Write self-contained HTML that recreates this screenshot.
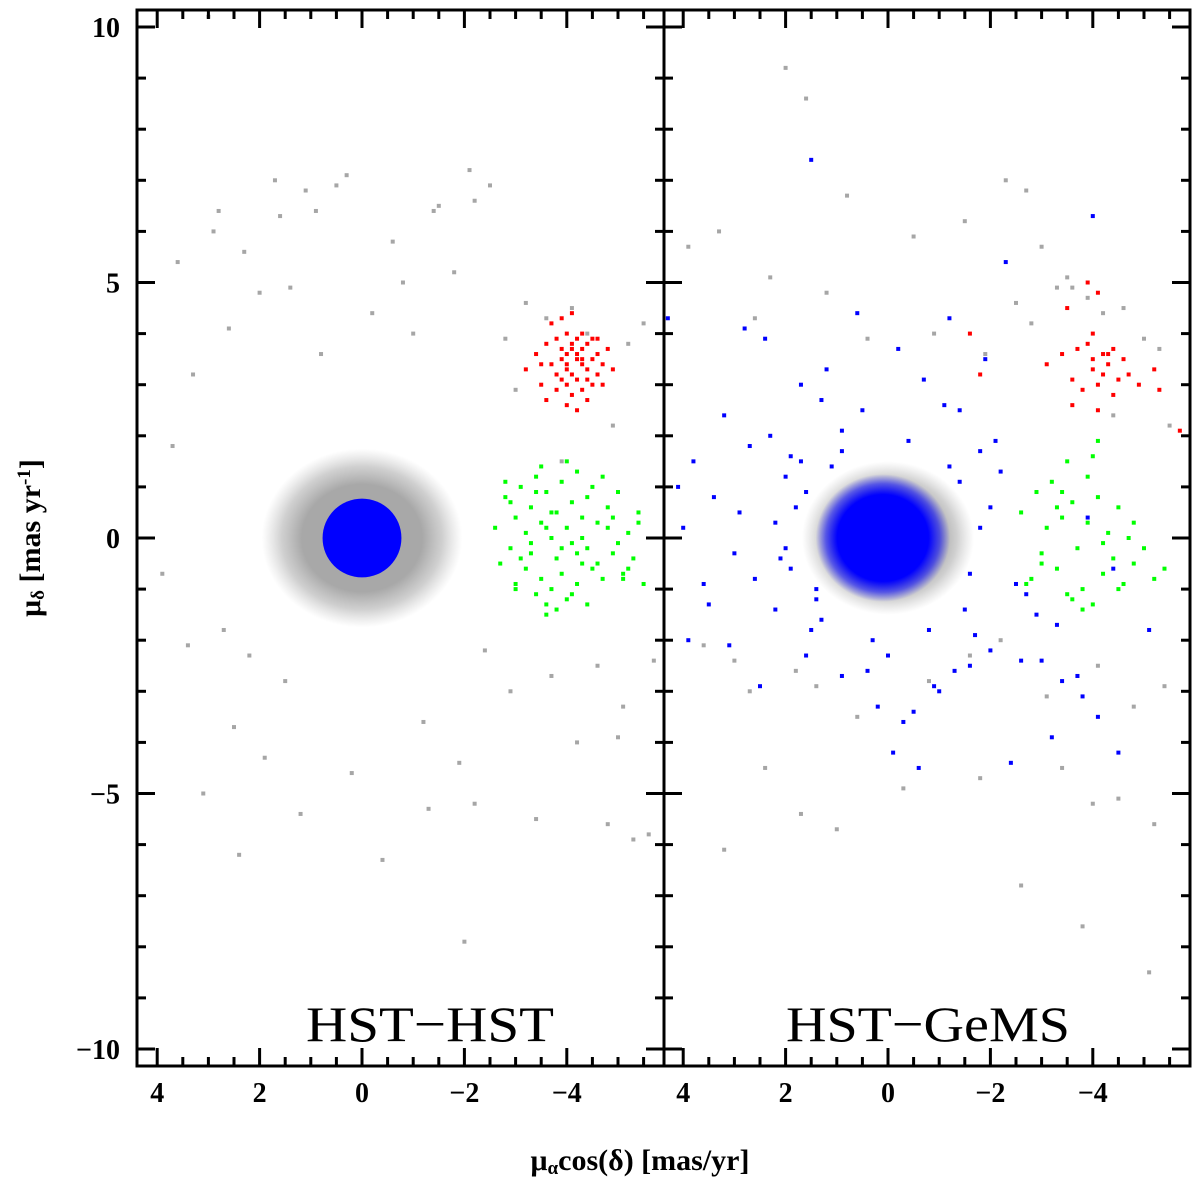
<!DOCTYPE html>
<html><head><meta charset="utf-8">
<style>
html,body{margin:0;padding:0;background:#fff;}
svg{display:block;font-family:"Liberation Serif",serif;font-weight:bold;}
</style></head>
<body>
<svg id="chart" width="1200" height="1186" viewBox="0 0 1200 1186"></svg>
<script>
// ---- data (mas/yr) ----
const yTicks=[10,5,0,-5,-10];
const xTickLabels=[4,2,0,-2,-4];
const panelTitles=["HST−HST","HST−GeMS"];
// dense cores: [x, y, radius]
const grayCoreL=[0,0,1.75];
const blueDiskL=[0,0,0.77];
const grayCoreR=[0,0,1.5];
const blueCoreR=[0.1,0,1.25];
// field stars (gray)
const grayX_L=[3.0,2.8,2.9,2.3,1.7,1.6,1.1,0.9,0.5,0.3,-0.6,-0.8,-1.4,-1.5,-2.1,-2.2,-2.5,3.6,3.3,2.6,2.0,1.4,0.8,-0.2,-1.0,-1.8,-2.8,-3.2,-3.6,-4.1,-4.4,-5.2,-5.5,3.9,3.4,2.7,2.2,1.5,-2.4,-2.9,-3.7,-4.6,-5.1,-5.7,2.5,1.9,-1.2,-1.9,-4.2,-5.0,3.1,2.4,1.2,-0.4,-2.2,-3.4,-4.8,-5.6,3.7,0.2,-1.3,-5.3,-2.0,-3.0,-3.9,-4.9];
const grayY_L=[10.2,6.4,6.0,5.6,7.0,6.3,6.8,6.4,6.9,7.1,5.8,5.0,6.4,6.5,7.2,6.6,6.9,5.4,3.2,4.1,4.8,4.9,3.6,4.4,4.0,5.2,3.9,4.6,4.3,4.5,4.0,3.8,4.2,-0.7,-2.1,-1.8,-2.3,-2.8,-2.2,-3.0,-2.7,-2.5,-3.3,-2.4,-3.7,-4.3,-3.6,-4.4,-4.0,-3.9,-5.0,-6.2,-5.4,-6.3,-5.2,-5.5,-5.6,-5.8,1.8,-4.6,-5.3,-5.9,-7.9,2.9,1.5,2.2];
const grayX_R=[2.0,1.6,0.8,-0.5,-1.5,-2.3,-2.7,-3.0,-3.3,-3.5,-3.9,-4.2,-4.6,-5.0,-5.3,3.9,3.3,2.6,2.3,1.2,0.4,-0.9,-1.9,-2.5,-2.8,-3.6,-4.4,-5.5,3.6,3.0,2.7,1.8,1.4,0.6,-0.8,-1.6,-2.2,-3.1,-3.7,-4.1,-4.8,-5.4,2.4,1.7,-0.3,-1.8,-3.4,-4.0,-4.5,-5.2,3.2,1.0,-2.6,-3.8,-5.1];
const grayY_R=[9.2,8.6,6.7,5.9,6.2,7.0,6.8,5.7,4.9,5.1,4.7,4.4,4.5,3.9,3.7,5.7,6.0,4.3,5.1,4.8,3.9,4.0,3.6,4.6,4.2,4.9,2.4,2.2,-2.1,-2.4,-3.0,-2.6,-2.9,-3.5,-2.8,-2.3,-2.0,-3.1,-2.7,-2.5,-3.3,-2.9,-4.5,-5.4,-4.9,-4.7,-4.5,-5.2,-5.1,-5.6,-6.1,-5.7,-6.8,-7.6,-8.5];
// red group
const redX_L=[-3.2,-3.4,-3.5,-3.6,-3.7,-3.8,-3.8,-3.9,-3.9,-4.0,-4.0,-4.0,-4.1,-4.1,-4.1,-4.2,-4.2,-4.2,-4.3,-4.3,-4.3,-4.4,-4.4,-4.5,-4.5,-4.6,-4.6,-4.7,-4.8,-4.9,-3.6,-3.7,-3.9,-4.0,-4.1,-4.2,-4.3,-4.4,-4.5,-3.8,-4.0,-4.2,-4.4,-4.6,-3.5,-4.1,-4.3,-3.9,-4.7,-4.0];
const redY_L=[3.3,3.6,3.0,3.8,3.4,2.9,3.9,3.5,3.1,3.6,3.3,4.0,3.7,3.2,2.8,3.5,3.9,3.1,3.4,3.7,2.9,3.3,3.8,3.5,3.0,3.6,3.2,3.4,3.7,3.3,2.7,4.2,4.3,2.6,4.4,2.5,4.0,2.7,3.9,3.2,3.0,3.6,3.1,3.9,3.4,3.8,3.5,3.7,3.0,3.4];
const redX_R=[-3.1,-3.4,-3.6,-3.7,-3.8,-3.9,-4.0,-4.0,-4.1,-4.2,-4.2,-4.3,-4.4,-4.4,-4.5,-4.6,-4.7,-4.9,-5.2,-5.3,-3.5,-3.9,-4.1,-4.3,-4.0,-1.6,-1.8,-5.7,-4.1,-3.6];
const redY_R=[3.4,3.6,3.1,3.7,2.9,3.8,3.3,3.5,3.0,3.6,3.2,3.4,3.7,2.8,3.1,3.5,3.2,3.0,3.3,2.9,4.5,5.0,4.8,3.6,4.0,4.0,3.2,2.1,2.5,2.6];
// green group
const grnX_L=[-2.6,-2.7,-2.8,-2.9,-3.0,-3.0,-3.1,-3.2,-3.2,-3.3,-3.3,-3.4,-3.4,-3.5,-3.5,-3.6,-3.6,-3.7,-3.7,-3.8,-3.8,-3.9,-3.9,-4.0,-4.0,-4.1,-4.1,-4.2,-4.2,-4.3,-4.3,-4.4,-4.4,-4.5,-4.5,-4.6,-4.7,-4.8,-4.9,-5.0,-5.1,-5.2,-5.3,-5.4,-5.5,-2.8,-3.0,-3.3,-3.5,-3.6,-3.7,-3.9,-4.1,-4.3,-4.6,-4.8,-5.0,-5.2,-2.9,-3.4,-3.8,-4.2,-4.7,-5.4,-3.1,-3.6,-4.0,-4.4,-4.9,-5.1];
const grnY_L=[0.2,-0.5,0.8,-0.2,0.4,-0.9,1.0,0.1,-0.6,0.6,-0.3,1.2,-1.1,0.3,-0.8,0.9,-1.3,0.0,-1.0,0.5,-0.4,1.1,-0.7,0.2,-1.2,0.7,-0.1,1.3,-0.9,0.4,-0.5,0.8,-0.2,1.0,-0.6,0.3,-0.8,0.6,-0.3,0.9,-0.7,0.1,-0.4,0.5,-0.9,1.1,-1.0,-0.1,1.4,-1.5,0.5,-0.2,-1.1,0.0,-0.5,0.2,-0.1,-0.6,0.7,0.9,-1.4,-0.3,1.2,0.3,-0.4,0.2,1.5,-1.3,0.4,-0.8];
const grnX_R=[-2.6,-2.8,-2.9,-3.0,-3.1,-3.2,-3.3,-3.4,-3.5,-3.6,-3.7,-3.8,-3.9,-4.0,-4.1,-4.2,-4.3,-4.4,-4.5,-4.6,-4.7,-4.8,-5.0,-5.2,-5.4,-3.0,-3.3,-3.6,-3.9,-4.2,-4.5,-4.8,-2.7,-3.5,-4.1,-3.8,-3.4,-4.0];
const grnY_R=[0.5,-0.8,0.9,-0.3,0.2,1.1,-0.6,0.4,-1.1,0.7,-0.2,-1.0,0.3,-1.3,0.8,-0.7,0.1,-0.4,0.6,-0.9,0.0,-0.5,-0.2,-0.8,-0.6,-0.5,0.6,-1.2,1.2,-0.1,-1.0,0.3,-0.9,1.5,1.9,-1.4,0.9,1.6];
// scattered blue (right panel)
const blueX_R=[4.3,4.1,3.8,3.5,3.2,2.9,2.6,2.3,2.0,1.7,1.5,1.2,0.9,0.5,0.2,-0.3,-0.6,-1.0,-1.3,-1.7,-2.0,-2.4,-2.7,-3.0,-3.4,-3.8,-4.1,-4.5,-5.1,3.9,3.4,3.0,2.7,2.2,1.9,1.6,1.3,0.9,0.4,-0.1,-0.5,-0.9,-1.4,-1.8,-2.2,-2.5,-2.9,-3.3,-3.9,-4.4,4.0,3.6,3.1,2.5,2.1,1.8,1.4,1.1,-0.2,-0.7,-1.1,-1.6,-2.1,-2.6,-3.2,-3.7,1.5,0.6,-4.0,-2.3,2.8,2.4,-1.2,-1.9,2.2,1.9,1.6,1.4,-1.4,-1.6,-1.8,1.7,-1.5,0.9,-0.8,0.3,-0.4,1.3,-1.2,2.0,-2.0,0.0];
const blueY_R=[4.3,1.0,1.5,-1.3,2.4,0.5,-0.8,2.0,1.2,3.0,-1.8,3.3,-2.7,2.5,-3.3,-3.6,-4.5,-3.0,-2.6,-1.9,-2.2,-4.4,-1.1,-2.4,-2.8,-3.1,-3.5,-4.2,-1.8,-2.0,0.8,-0.3,1.8,-1.4,1.6,-2.3,2.7,2.1,-2.6,-4.2,-3.4,-2.9,2.5,1.7,1.3,-0.9,-1.5,-1.7,0.4,-0.6,0.2,-0.9,-2.1,-2.9,-0.4,0.6,-1.0,1.4,3.7,3.1,2.6,-2.5,1.9,-2.4,-3.9,-2.7,7.4,4.4,6.3,5.4,4.1,3.9,4.3,3.5,0.3,-0.6,0.9,-1.2,1.1,-0.7,0.2,1.5,-1.4,1.7,-1.8,-2.0,1.9,-1.6,1.4,-0.2,0.6,-2.3];

// ---- layout ----
const NS='http://www.w3.org/2000/svg';
const svg=document.getElementById('chart');
const top_=10,bot=1066,panels=[{l:137,r:664,x0:362},{l:664,r:1190,x0:888}];
const pxU=51.2,pyU=51.1,y0=538;
function Y(v){return y0-v*pyU;}
function mk(tag,attrs,parent){const e=document.createElementNS(NS,tag);for(const k in attrs)e.setAttribute(k,attrs[k]);(parent||svg).appendChild(e);return e;}

const sets=[
 {core:grayCoreL,disk:blueDiskL,g:[grayX_L,grayY_L],r:[redX_L,redY_L],gr:[grnX_L,grnY_L],b:null},
 {core:grayCoreR,disk:null,bcore:blueCoreR,g:[grayX_R,grayY_R],r:[redX_R,redY_R],gr:[grnX_R,grnY_R],b:[blueX_R,blueY_R]}
];
const defs=mk('defs',{});
const rg1=mk('radialGradient',{id:'gcore'},defs);
mk('stop',{offset:'0','stop-color':'#a8a8a8','stop-opacity':'1'},rg1);
mk('stop',{offset:'0.6','stop-color':'#a8a8a8','stop-opacity':'1'},rg1);
mk('stop',{offset:'0.8','stop-color':'#b0b0b0','stop-opacity':'0.6'},rg1);
mk('stop',{offset:'1','stop-color':'#c0c0c0','stop-opacity':'0'},rg1);
const rg2=mk('radialGradient',{id:'bcore'},defs);
mk('stop',{offset:'0','stop-color':'#0000ff','stop-opacity':'1'},rg2);
mk('stop',{offset:'0.68','stop-color':'#0000ff','stop-opacity':'1'},rg2);
mk('stop',{offset:'0.85','stop-color':'#1010ff','stop-opacity':'0.6'},rg2);
mk('stop',{offset:'1','stop-color':'#2020ff','stop-opacity':'0'},rg2);

panels.forEach((p,i)=>{
  const X=v=>p.x0-v*pxU;
  const s=sets[i];
  const g=mk('g',{'clip-path':'url(#clip'+i+')'});
  
  
  const cp=mk('clipPath',{id:'clip'+i},defs);
  mk('rect',{x:p.l,y:top_,width:p.r-p.l,height:bot-top_},cp);
  const c=mk('ellipse',{cx:X(s.core[0]),cy:Y(s.core[1]),rx:s.core[2]*pxU*1.12,ry:s.core[2]*pyU,fill:'url(#gcore)'},g);
   
  function pts(arr,col,name){for(let k=0;k<arr[0].length;k++){const e=mk('rect',{x:X(arr[0][k])-2,y:Y(arr[1][k])-2,width:4,height:4,fill:col},g);
     }}
  pts(s.g,'#a6a6a6','field-star');
  pts(s.r,'#ff0000','red-group-star');
  pts(s.gr,'#00ff00','green-group-star');
  if(s.b) pts(s.b,'#0000ff','blue-cluster-star');
  if(s.disk){const d=mk('circle',{cx:X(s.disk[0]),cy:Y(s.disk[1]),r:s.disk[2]*pxU,fill:'#0000ff'},g);
     }
  if(s.bcore){const d=mk('ellipse',{cx:X(s.bcore[0]),cy:Y(s.bcore[1]),rx:s.bcore[2]*pxU*1.05,ry:s.bcore[2]*pyU,fill:'url(#bcore)'},g);
     }
  // ticks
  const ax=mk('g',{stroke:'#000','stroke-width':3});
   
  for(let v=-6;v<=5;v+=0.5){const x=X(v);if(x<p.l+2||x>p.r-2)continue;const major=Math.abs(v%2)<1e-6;const L=major?18:9;
    mk('line',{x1:x,y1:bot,x2:x,y2:bot-L},ax);mk('line',{x1:x,y1:top_,x2:x,y2:top_+L},ax);}
  for(let v=-10;v<=10;v+=1){const y=Y(v);const L=v%5===0?18:9;
    mk('line',{x1:p.l,y1:y,x2:p.l+L,y2:y},ax);mk('line',{x1:p.r,y1:y,x2:p.r-L,y2:y},ax);}
  mk('rect',{x:p.l,y:top_,width:p.r-p.l,height:bot-top_,fill:'none'},ax);
  xTickLabels.forEach(v=>{const t=mk('text',{x:X(v),y:1102,'font-size':28,'text-anchor':'middle'});
    t.textContent=(v<0?'−':'')+Math.abs(v);});
  const tt=mk('text',{x:i?928:430,y:1041,'font-size':50,'font-weight':'normal','text-anchor':'middle','textLength':i?284:248,'lengthAdjust':'spacingAndGlyphs'});
  tt.textContent=panelTitles[i];
});
yTicks.forEach(v=>{const t=mk('text',{x:120,y:Y(v)+10,'font-size':28,'text-anchor':'end'});
  t.textContent=(v<0?'−':'')+Math.abs(v);});
const xt=mk('text',{x:640,y:1170,'font-size':30,'text-anchor':'middle'});
xt.innerHTML='μ<tspan font-size="19" dy="4">α</tspan><tspan dy="-4">cos(δ) [mas/yr]</tspan>';

const yt=mk('text',{x:0,y:0,'font-size':30,'text-anchor':'middle',transform:'translate(40,538) rotate(-90)'});
yt.innerHTML='μ<tspan font-size="19" dy="4">δ</tspan><tspan dy="-4"> [mas yr</tspan><tspan font-size="19" dy="-10">-1</tspan><tspan dy="10">]</tspan>';

</script>
</body></html>
